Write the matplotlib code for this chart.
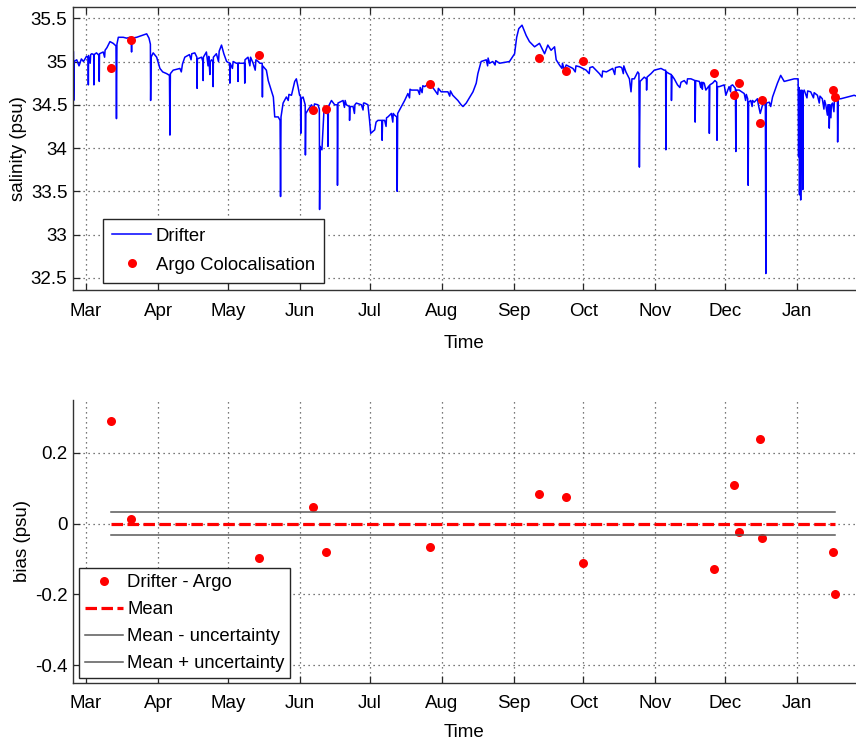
import numpy as np
import matplotlib
matplotlib.use('Agg')
import matplotlib.pyplot as plt
import matplotlib.dates as mdates
from matplotlib.ticker import FuncFormatter, FixedLocator

plt.rcParams['font.family'] = ['Liberation Sans', 'DejaVu Sans']

# ---------------- data (days since 1 March) ----------------
drifter_points = [
    (-5.4, 35.11), (-5.3, 34.55), (-5.1, 35.00), (-4.0, 35.02), (-3.0, 34.95), (-2.0, 35.03), (-1.1, 35.00),
    (0.2, 35.06), (0.9, 35.05), (1.0, 34.73), (1.1, 35.07), (2.5, 35.09), (3.3, 35.08), (3.4, 34.73), (3.5, 35.08),
    (4.5, 35.10), (5.6, 35.07), (5.7, 34.77), (5.8, 35.09), (7.4, 35.11), (9.0, 35.16), (10.3, 35.23), (11.7, 35.21),
    (12.9, 35.18), (13.1, 34.34), (13.3, 35.20), (13.9, 35.28), (16.0, 35.28), (17.5, 35.27), (18.9, 35.28),
    (19.5, 35.25), (19.6, 35.11), (19.7, 35.27), (21.8, 35.28), (24.0, 35.30), (26.1, 35.32), (27.1, 35.27),
    (27.7, 35.20), (27.8, 34.55), (28.0, 35.05), (28.9, 35.10), (30.4, 35.05), (31.8, 34.92), (33.0, 34.88),
    (34.7, 34.86), (35.9, 34.84), (36.1, 34.15), (36.3, 34.86), (37.5, 34.90), (40.4, 34.92), (42.5, 35.05),
    (44.5, 35.08), (46.8, 35.10), (47.7, 35.05), (47.8, 34.69), (47.9, 35.03), (49.7, 35.05), (50.3, 35.00),
    (50.4, 34.78), (50.5, 35.05), (51.8, 35.11), (54.0, 35.02), (54.6, 35.00), (54.7, 34.71), (54.8, 35.05),
    (56.1, 35.09), (58.3, 35.19), (59.3, 35.09), (60.5, 35.00), (61.8, 34.98), (61.9, 34.75), (62.0, 34.98),
    (64.7, 34.98), (65.3, 34.98), (65.4, 34.77), (65.5, 34.98), (67.5, 34.98), (68.2, 34.98), (68.3, 34.75),
    (68.4, 35.02), (69.7, 35.05), (71.9, 34.98), (74.1, 35.00), (74.8, 34.98), (75.8, 34.98), (75.9, 34.59),
    (76.0, 34.95), (77.6, 34.90), (78.4, 34.78),
    (80.6, 34.59), (81.2, 34.36), (82.7, 34.36), (83.5, 34.32), (83.7, 33.44), (83.9, 34.36), (84.8, 34.52),
    (86.2, 34.59), (88.4, 34.61), (89.8, 34.77), (90.5, 34.80), (91.2, 34.71), (91.9, 34.61), (92.3, 34.60),
    (92.4, 34.17), (92.6, 34.57), (93.4, 34.59), (94.3, 34.50), (94.4, 33.92), (94.6, 34.40), (95.5, 34.44),
    (97.0, 34.50), (99.8, 34.50), (100.4, 34.45), (100.5, 33.29), (100.7, 34.02), (101.5, 33.98), (102.4, 34.44),
    (103.4, 34.40), (104.0, 34.40), (104.1, 34.02), (104.3, 34.48), (105.6, 34.55), (107.0, 34.50), (108.1, 34.50),
    (108.2, 33.57), (108.4, 34.52), (110.6, 34.55), (112.0, 34.50), (113.3, 34.48), (113.4, 34.32), (113.6, 34.48),
    (114.9, 34.48), (116.3, 34.52), (118.5, 34.50), (119.9, 34.52), (121.3, 34.50), (122.0, 34.32), (122.5, 34.17),
    (124.2, 34.21), (125.6, 34.32), (127.3, 34.32), (127.4, 34.09), (127.6, 34.32), (128.5, 34.32), (129.9, 34.36),
    (131.4, 34.40), (132.8, 34.38), (133.7, 34.36), (133.9, 33.50), (134.1, 34.40), (134.9, 34.44), (137.1, 34.55),
    (138.5, 34.63), (140.0, 34.67), (142.8, 34.67), (145.7, 34.71), (147.8, 34.75), (150.0, 34.67), (152.8, 34.65),
    (155.7, 34.65), (157.8, 34.61), (160.0, 34.55), (161.4, 34.50), (162.2, 34.48),
    (163.6, 34.52), (166.5, 34.65), (167.9, 34.75), (168.6, 34.86), (170.0, 35.00), (172.2, 35.02), (173.6, 34.98),
    (175.0, 35.00), (177.9, 34.98), (182.2, 35.00), (184.4, 35.09), (185.3, 35.28), (186.2, 35.38), (187.6, 35.42),
    (189.4, 35.30), (190.8, 35.23), (193.0, 35.17), (195.1, 35.21), (197.3, 35.09), (198.7, 35.19), (200.1, 35.13),
    (201.6, 35.17), (202.3, 35.02), (203.7, 34.96), (206.6, 34.96), (209.5, 34.92), (212.3, 34.94), (215.2, 34.90),
    (218.0, 34.94), (220.9, 34.86), (223.9, 34.88), (226.6, 34.92), (229.5, 34.94), (232.3, 34.88), (233.8, 34.80),
    (234.5, 34.65), (234.9, 34.80), (235.9, 34.80), (237.4, 34.88), (237.9, 34.86), (238.1, 33.78), (238.4, 34.77),
    (240.2, 34.82), (241.1, 34.80), (241.2, 34.67), (241.4, 34.82), (243.1, 34.86), (244.5, 34.90),
    (247.4, 34.92), (248.8, 34.90), (249.4, 34.90), (249.5, 33.98), (249.7, 34.88), (250.9, 34.86), (251.8, 34.85),
    (251.9, 34.55), (252.1, 34.84), (253.1, 34.80), (254.5, 34.73), (257.4, 34.78), (260.3, 34.80), (262.0, 34.78),
    (262.1, 34.30), (262.3, 34.78), (263.9, 34.77), (266.0, 34.75), (266.7, 34.67), (268.1, 34.72), (268.2, 34.17),
    (268.4, 34.73), (269.6, 34.75), (270.6, 34.78), (271.4, 34.76), (271.5, 34.09), (271.7, 34.71), (272.5, 34.71),
    (274.6, 34.73), (275.3, 34.61), (276.7, 34.71), (278.2, 34.73), (279.4, 34.69), (279.6, 33.96), (279.8, 34.67),
    (281.0, 34.67), (283.2, 34.63), (284.7, 34.57), (284.9, 33.57), (285.1, 34.53), (286.0, 34.55), (287.5, 34.53),
    (288.9, 34.57), (290.1, 34.40), (291.1, 34.50), (292.3, 34.52), (292.5, 32.55), (292.7, 34.52), (294.0, 34.53),
    (295.4, 34.59), (297.5, 34.75), (298.9, 34.84), (300.4, 34.77), (301.8, 34.78), (304.7, 34.80), (306.4, 34.80),
    (306.8, 34.70), (307.0, 33.46), (307.2, 34.67), (307.4, 34.65), (307.5, 33.40), (307.7, 34.63), (308.0, 34.67),
    (308.3, 34.60), (308.4, 33.52), (308.6, 34.65), (309.0, 34.67), (311.8, 34.65), (314.7, 34.61), (316.8, 34.57),
    (318.3, 34.50), (319.7, 34.50), (319.8, 34.23), (320.0, 34.50), (321.2, 34.52), (322.6, 34.55), (323.3, 34.55),
    (323.4, 34.07), (323.6, 34.57), (324.8, 34.57), (327.6, 34.59), (330.5, 34.61), (331.5, 34.60),
]
drifter_wiggles = [
    (1.8, 34.98), (2.0, 35.08), (8.0, 35.05), (8.2, 35.13), (41.0, 34.88), (41.5, 34.97), (45.2, 35.02),
    (45.5, 35.09), (52.5, 34.95), (52.8, 35.06), (53.3, 34.85), (53.5, 35.00), (57.0, 35.00), (57.3, 35.12),
    (63.0, 34.92), (63.3, 35.00), (70.5, 34.95), (70.8, 35.05), (72.8, 34.90), (73.1, 35.02),
    (87.0, 34.55), (87.3, 34.62), (98.0, 34.45), (98.3, 34.51), (111.2, 34.47), (111.5, 34.55),
    (115.5, 34.40), (115.7, 34.50), (119.2, 34.44), (119.4, 34.52), (124.8, 34.30), (129.1, 34.25),
    (129.3, 34.35), (132.0, 34.30), (132.2, 34.40), (139.2, 34.58), (139.4, 34.68), (143.5, 34.62),
    (143.8, 34.70), (144.6, 34.64), (144.9, 34.72), (151.3, 34.62), (151.6, 34.69), (156.5, 34.60),
    (156.8, 34.66), (172.8, 34.95), (173.0, 35.04), (176.0, 34.96), (176.3, 35.01), (204.8, 34.92),
    (205.0, 34.98), (205.8, 34.90), (210.5, 34.88), (210.8, 34.95), (216.5, 34.86), (216.8, 34.93),
    (222.0, 34.82), (222.3, 34.89), (227.5, 34.85), (227.8, 34.93), (230.5, 34.93), (231.2, 34.86),
    (231.4, 34.95), (255.5, 34.70), (256.0, 34.76), (258.5, 34.74), (258.8, 34.80), (264.5, 34.70),
    (264.8, 34.76), (265.2, 34.68), (265.4, 34.76), (277.3, 34.65), (277.5, 34.72), (283.8, 34.55),
    (284.1, 34.62), (286.6, 34.48), (286.8, 34.55), (289.3, 34.50), (294.6, 34.48), (306.6, 33.90),
    (310.2, 34.58), (310.5, 34.66), (313.0, 34.58), (313.3, 34.64), (315.5, 34.52), (315.8, 34.60),
    (317.5, 34.45), (317.8, 34.55), (319.0, 34.38), (319.2, 34.50), (320.5, 34.35), (320.7, 34.50),
    (321.8, 34.42), (322.0, 34.54),
]
_all = sorted(drifter_points + drifter_wiggles)
drifter_day = [p[0] for p in _all]
drifter_sal = [p[1] for p in _all]

argo_day = [10.7, 19.3, 74.3, 97.6, 103.1, 147.8, 194.7, 206.7, 214.0, 270.3, 278.9, 281.0, 290.1, 290.9, 321.4, 322.3]
argo_sal = [34.92, 35.25, 35.08, 34.44, 34.45, 34.74, 35.04, 34.89, 35.01, 34.87, 34.61, 34.75, 34.29, 34.55, 34.67, 34.59]
bias = [0.29, 0.012, -0.097, 0.048, -0.08, -0.065, 0.085, 0.074, -0.11, -0.128, 0.108, -0.025, 0.24, -0.042, -0.08, -0.20]
bias_mean = 0.0
bias_uncertainty = 0.033

sal_ticks = [32.5, 33, 33.5, 34, 34.5, 35, 35.5]
bias_ticks = [-0.4, -0.2, 0, 0.2]

START = np.datetime64('2013-03-01T00:00')


def to_dates(days):
    return START + np.round(np.asarray(days, dtype=float) * 1440).astype('timedelta64[m]')


FS = 13.5
LFS = 13.3
grid_kw = dict(linestyle=(0, (1, 3)), color='0.3', linewidth=0.9)

fig = plt.figure(figsize=(8.56, 7.42), dpi=100)
W, H = 856.0, 742.0
ax1 = fig.add_axes([73 / W, 1 - 290 / H, 1 - 73 / W, 283 / H])
ax2 = fig.add_axes([73 / W, 1 - 683 / H, 1 - 73 / W, 283 / H])

xlim = (to_dates(-5.6), to_dates(331.3))

# ---------------- top panel ----------------
ax1.plot(to_dates(drifter_day), drifter_sal, color='#0000ff', lw=1.1, label='Drifter')
ax1.plot(to_dates(argo_day), argo_sal, 'o', color='#ff0000', ms=6.5, mec='none', label='Argo Colocalisation')
ax1.set_ylim(32.36, 35.63)
ax1.yaxis.set_major_locator(FixedLocator(sal_ticks))
ax1.set_ylabel('salinity (psu)', fontsize=FS, labelpad=3)
ax1.set_xlabel('Time', fontsize=FS, labelpad=11)
leg1 = ax1.legend(loc='lower left', bbox_to_anchor=(30 / 783, 7 / 283), fontsize=LFS, frameon=True,
                  fancybox=False, edgecolor='0.15', framealpha=1, handlelength=2.1, handletextpad=0.25,
                  labelspacing=0.65, borderpad=0.5, borderaxespad=0)
leg1.get_frame().set_linewidth(1.0)

# ---------------- bottom panel ----------------
d0, d1 = to_dates([argo_day[0], argo_day[-1]])
ax2.plot(to_dates(argo_day), bias, 'o', color='#ff0000', ms=6.5, mec='none', label='Drifter - Argo')
ax2.plot([d0, d1], [bias_mean, bias_mean], color='#ff0000', lw=2.3, dashes=(3.6, 1.4), label='Mean')
ax2.plot([d0, d1], [bias_mean - bias_uncertainty] * 2, color='0.35', lw=1.1, label='Mean - uncertainty')
ax2.plot([d0, d1], [bias_mean + bias_uncertainty] * 2, color='0.35', lw=1.1, label='Mean + uncertainty')
ax2.set_ylim(-0.45, 0.349)
ax2.yaxis.set_major_locator(FixedLocator(bias_ticks))
ax2.set_ylabel('bias (psu)', fontsize=FS, labelpad=3)
ax2.set_xlabel('Time', fontsize=FS, labelpad=8)
leg2 = ax2.legend(loc='lower left', bbox_to_anchor=(6 / 783, 5 / 283), fontsize=LFS, frameon=True,
                  fancybox=False, edgecolor='0.15', framealpha=1, handlelength=2.1, handletextpad=0.2,
                  labelspacing=0.55, borderpad=0.3, borderaxespad=0)
leg2.get_frame().set_linewidth(1.0)
ax2.spines['top'].set_visible(False)

for ax in (ax1, ax2):
    ax.set_xlim(xlim)
    ax.xaxis.set_major_locator(mdates.MonthLocator())
    ax.xaxis.set_major_formatter(mdates.DateFormatter('%b'))
    ax.yaxis.set_major_formatter(FuncFormatter(lambda v, p: '%g' % v))
    ax.grid(True, **grid_kw)
    ax.set_axisbelow(True)
    ax.tick_params(direction='in', length=5, width=0.9, labelsize=FS, colors='0.15', labelcolor='black')
    ax.tick_params(axis='x', pad=9)
    ax.tick_params(axis='y', pad=4)
    ax.spines['right'].set_visible(False)
    for s in ax.spines.values():
        s.set_color('0.2')
        s.set_linewidth(1.0)

ax1.tick_params(top=True, right=False)

fig.savefig('out.png', dpi=100)
